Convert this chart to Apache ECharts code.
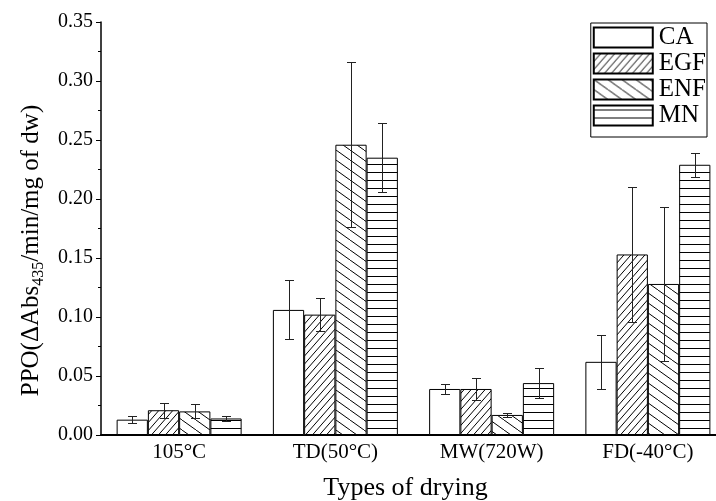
<!DOCTYPE html>
<html><head><meta charset="utf-8">
<script src="https://cdn.jsdelivr.net/npm/echarts@6/dist/echarts.min.js"></script>
<style>html,body{margin:0;padding:0;background:#fff}#c{width:716px;height:501px}</style>
</head><body><div id="c"></div>
<script>
// ---- data ----
const categories = ['105°C', 'TD(50°C)', 'MW(720W)', 'FD(-40°C)'];
const seriesNames = ['CA', 'EGF', 'ENF', 'MN'];
const CA = [0.013, 0.106, 0.039, 0.062];
const CA_err = [0.003, 0.025, 0.004, 0.023];
const EGF = [0.021, 0.102, 0.039, 0.153];
const EGF_err = [0.0065, 0.014, 0.009, 0.057];
const ENF = [0.020, 0.246, 0.017, 0.128];
const ENF_err = [0.006, 0.070, 0.0015, 0.065];
const MN = [0.014, 0.235, 0.044, 0.229];
const MN_err = [0.002, 0.029, 0.0125, 0.0103];
const yMin = 0, yMax = 0.35, yStep = 0.05;

const values = [CA, EGF, ENF, MN];
const errors = [CA_err, EGF_err, ENF_err, MN_err];
const FONT = '"Liberation Serif","Times New Roman",serif';

function makePattern(kind) {
  const c = document.createElement('canvas');
  let W = 4, H = 4;
  if (kind === 'fwd') { W = 7; H = 8; }
  if (kind === 'back') { W = 14; H = 10; }
  if (kind === 'hor') { W = 4; H = 8; }
  c.width = W; c.height = H;
  const ctx = c.getContext('2d');
  ctx.fillStyle = '#fff'; ctx.fillRect(0, 0, W, H);
  ctx.strokeStyle = '#000'; ctx.lineWidth = 1;
  ctx.beginPath();
  if (kind === 'fwd') {
    for (let i = -1; i <= 1; i++) { ctx.moveTo(i * W, H); ctx.lineTo((i + 1) * W, 0); }
  } else if (kind === 'back') {
    for (let i = -1; i <= 1; i++) { ctx.moveTo(i * W, 0); ctx.lineTo((i + 1) * W, H); }
  } else if (kind === 'hor') {
    ctx.moveTo(0, 4.5); ctx.lineTo(W, 4.5);
  }
  ctx.stroke();
  if (kind === 'none') return '#fff';
  return { image: c, repeat: 'repeat' };
}
const patterns = [makePattern('none'), makePattern('fwd'), makePattern('back'), makePattern('hor')];

const BAR_GAP_FRAC = 0.2;
const barSeries = seriesNames.map((name, i) => ({
  name: name,
  type: 'bar',
  xAxisIndex: 0,
  data: values[i],
  barGap: '0%',
  barCategoryGap: (BAR_GAP_FRAC * 100) + '%',
  itemStyle: { color: patterns[i], borderColor: '#000', borderWidth: 1 },
  emphasis: { disabled: true },
  silent: true,
  z: 2
}));

const errData = [];
seriesNames.forEach((n, s) => {
  values[s].forEach((v, c) => errData.push([c, s, v - errors[s][c], v + errors[s][c]]));
});

const errSeries = {
  type: 'custom',
  xAxisIndex: 0,
  silent: true,
  z: 5,
  data: errData,
  encode: { x: 0, y: [2, 3] },
  renderItem: function (params, api) {
    const cat = api.value(0), s = api.value(1), lo = api.value(2), hi = api.value(3);
    const base = api.coord([cat, 0]);
    const band = api.size([1, 0])[0];
    const bw = band * (1 - BAR_GAP_FRAC) / 4;
    const x = Math.round(base[0] + (s - 1.5) * bw) + 0.5;
    const yHi = Math.round(api.coord([cat, hi])[1]) + 0.5;
    const yLo = Math.round(api.coord([cat, lo])[1]) + 0.5;
    const cap = 4.5;
    const st = { stroke: '#222', lineWidth: 1 };
    return {
      type: 'group',
      children: [
        { type: 'line', shape: { x1: x, y1: yHi, x2: x, y2: yLo }, style: st },
        { type: 'line', shape: { x1: x - cap, y1: yHi, x2: x + cap, y2: yHi }, style: st },
        { type: 'line', shape: { x1: x - cap, y1: yLo, x2: x + cap, y2: yLo }, style: st }
      ]
    };
  }
};

const chart = echarts.init(document.getElementById('c'), null, { renderer: 'canvas' });
chart.setOption({
  animation: false,
  backgroundColor: '#fff',
  grid: { left: 101, right: -10, top: 22, bottom: 66, containLabel: false, outerBoundsMode: 'none' },
  legend: {
    data: seriesNames,
    orient: 'vertical',
    right: 9, top: 23,
    icon: 'rect',
    itemWidth: 59, itemHeight: 20, itemGap: 1,
    padding: [2, 1, 9, 2],
    borderColor: '#000', borderWidth: 1,
    backgroundColor: '#fff',
    textStyle: { fontFamily: FONT, fontSize: 25, color: '#000', padding: [0, 0, 0, 1] },
    selectedMode: false
  },
  xAxis: [{
    type: 'category',
    data: categories,
    axisLine: { lineStyle: { color: '#000', width: 2 } },
    axisTick: { alignWithLabel: true, length: 7, lineStyle: { color: '#000', width: 1.5 } },
    axisLabel: { fontFamily: FONT, fontSize: 21, color: '#000', margin: 7 },
    name: 'Types of drying',
    nameLocation: 'middle',
    nameGap: 40,
    nameTextStyle: { fontFamily: FONT, fontSize: 26, color: '#000', padding: [0, 16, 0, 0] }
  }, {
    type: 'category',
    data: categories,
    position: 'top',
    offset: -413,
    axisLine: { show: false, onZero: false },
    axisTick: { inside: true, length: 3, lineStyle: { color: '#000', width: 1 } },
    axisLabel: { show: false }
  }],
  yAxis: {
    type: 'value',
    min: yMin, max: yMax, interval: yStep,
    axisLine: { show: true, lineStyle: { color: '#000', width: 1.5 } },
    axisTick: { show: true, length: 5, lineStyle: { color: '#000', width: 1 } },
    minorTick: { show: true, splitNumber: 2, length: 3, lineStyle: { color: '#000', width: 1 } },
    splitLine: { show: false },
    axisLabel: { fontFamily: FONT, fontSize: 20, color: '#000', margin: 8, formatter: v => v.toFixed(2) },
    name: '{a|PPO(ΔAbs}{s|435}{a|/min/mg of dw)}',
    nameLocation: 'middle',
    nameRotate: 90,
    nameGap: 54,
    nameTextStyle: {
      color: '#000',
      padding: [0, 44, 0, 0],
      rich: {
        a: { fontFamily: FONT, fontSize: 25, color: '#000', padding: [0, 0, 3, 0], verticalAlign: 'bottom' },
        s: { fontFamily: FONT, fontSize: 16, color: '#000', verticalAlign: 'bottom' }
      }
    }
  },
  series: barSeries.concat([errSeries])
});
</script>
</body></html>
